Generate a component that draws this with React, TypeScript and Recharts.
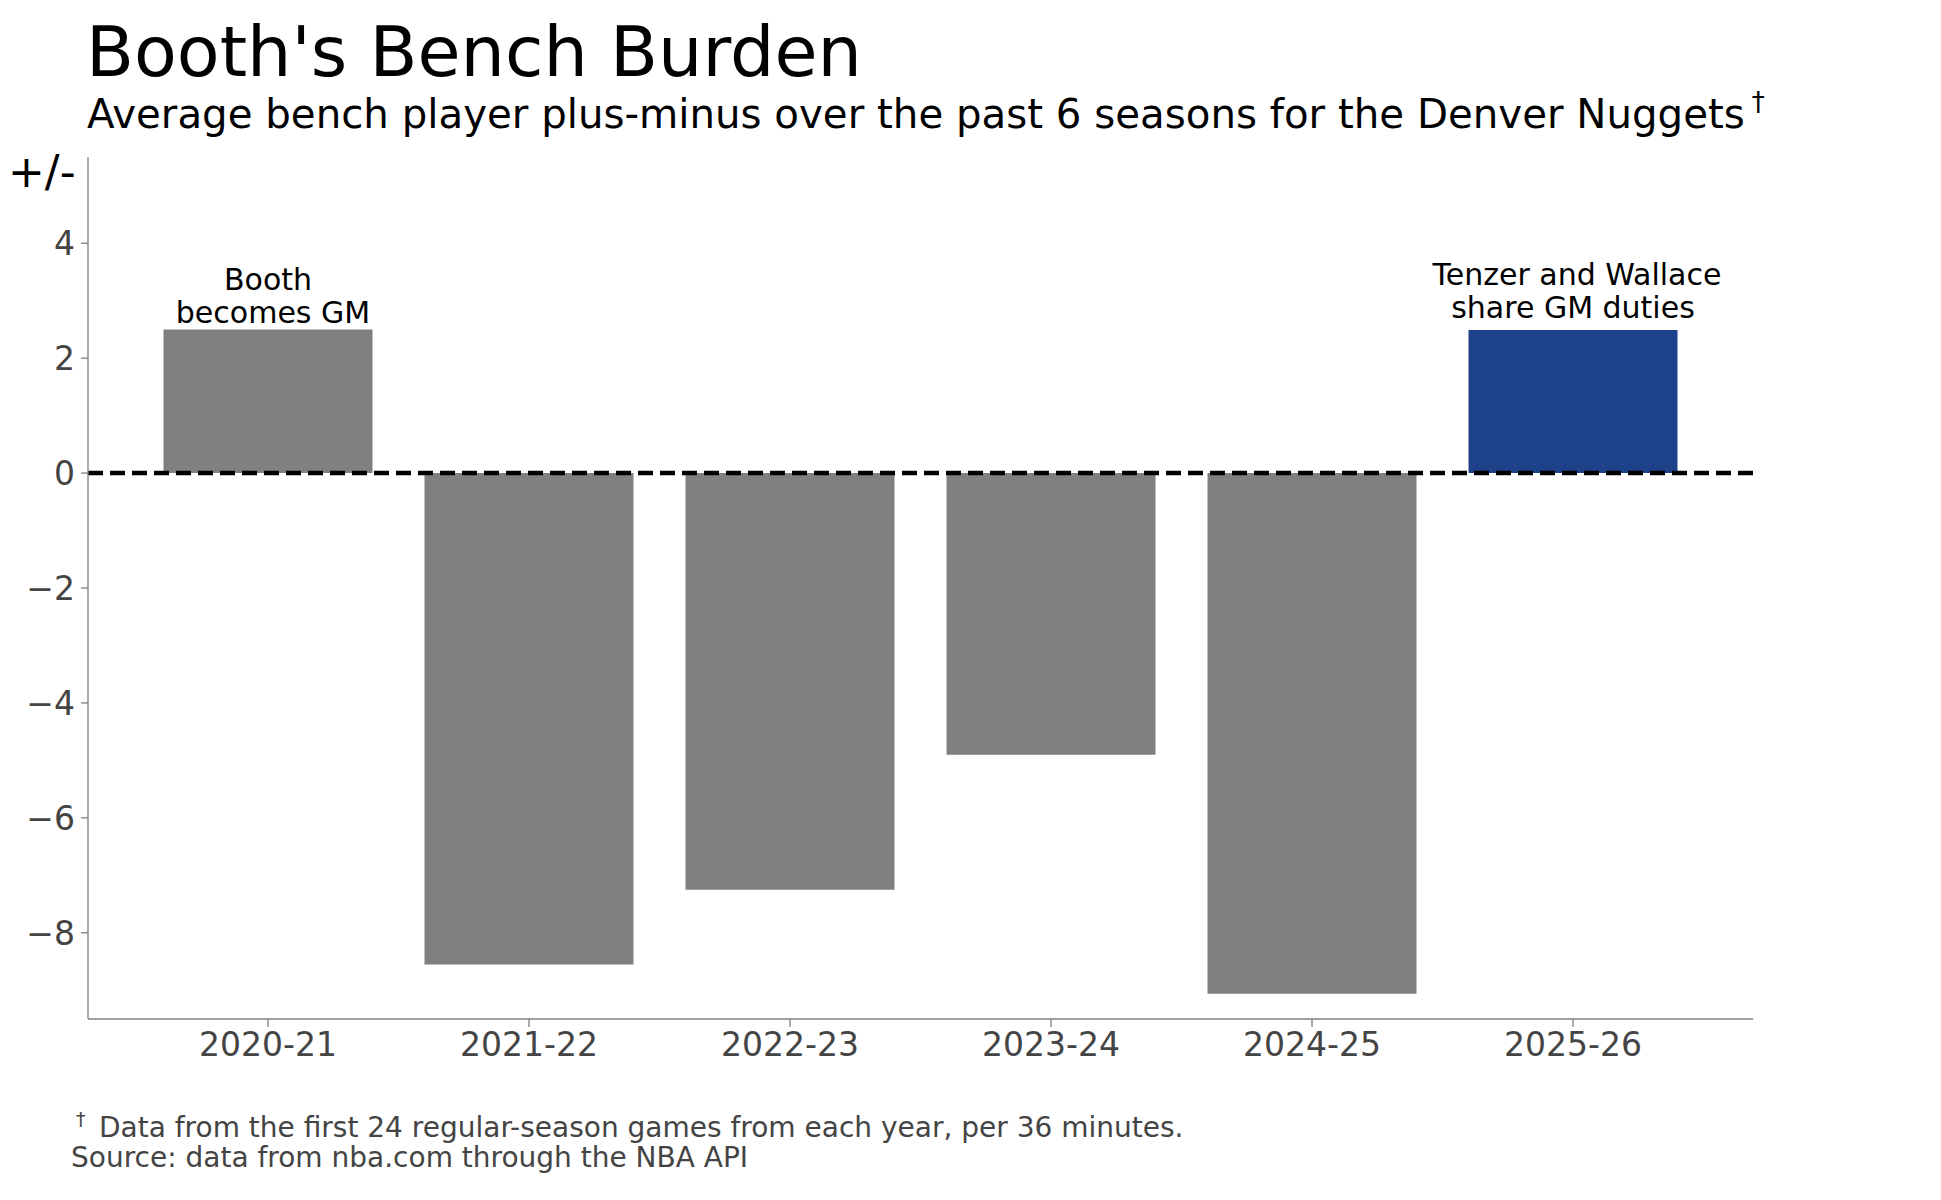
import React from "react";
import { Bar, BarChart, Cell, LabelList, ReferenceLine, XAxis, YAxis } from "recharts";

const seasons = ["2020-21", "2021-22", "2022-23", "2023-24", "2024-25", "2025-26"];
const benchPlusMinus = [2.5, -8.55, -7.25, -4.9, -9.06, 2.49];
const notes = ["Booth\nbecomes GM", "", "", "", "", "Tenzer and Wallace\nshare GM duties"];
const yTicks = [-8, -6, -4, -2, 0, 2, 4];
const highlightSeason = "2025-26";

const data = seasons.map((season, i) => ({
  season,
  value: benchPlusMinus[i],
  note: notes[i],
}));

const FONT = "'DejaVu Sans', sans-serif";
const GREY = "#808080";
const NAVY = "#1D428A";
const TEXT_GREY = "#444444";

// small per-annotation nudges (pixels) so the text sits like the original
const noteLift: Record<number, number> = { 0: 6, 5: 12 };
const noteShift: Record<number, number[]> = { 0: [0, 5], 5: [4, 0] };

function renderNote(props: any) {
  const { x, y, width, value, index } = props;
  if (!value) return null;
  const lines = String(value).split("\n");
  const cx = Number(x) + Number(width) / 2;
  const base = Number(y) - (noteLift[index] ?? 8);
  const shifts = noteShift[index] ?? [];
  return (
    <g>
      {lines.map((line, i) => (
        <text
          key={i}
          x={cx + (shifts[i] ?? 0)}
          y={base - (lines.length - 1 - i) * 33}
          textAnchor="middle"
          fontSize={30}
          fontFamily={FONT}
          fill="#000"
        >
          {line}
        </text>
      ))}
    </g>
  );
}

const fmtTick = (v: number) => (v < 0 ? `\u2212${Math.abs(v)}` : `${v}`);

export default function App() {
  return (
    <div
      style={{
        position: "absolute",
        left: 0,
        top: 0,
        width: 1941,
        height: 1200,
        background: "#fff",
        fontFamily: FONT,
      }}
    >
      <BarChart
        width={1941}
        height={1200}
        data={data}
        margin={{ top: 157, right: 188, bottom: 121, left: 8 }}
      >
        <XAxis
          dataKey="season"
          height={60}
          padding={{ left: 49.5, right: 49.5 }}
          tick={{ fontSize: 33, fill: TEXT_GREY, fontFamily: FONT }}
          tickSize={8}
          tickMargin={6}
          axisLine={{ stroke: GREY, strokeWidth: 1.3 }}
          tickLine={{ stroke: GREY, strokeWidth: 1.3 }}
        />
        <YAxis
          type="number"
          width={80}
          domain={[-9.5, 5.5]}
          ticks={yTicks}
          allowDataOverflow
          tickFormatter={fmtTick}
          tick={{ fontSize: 33, fill: TEXT_GREY, fontFamily: FONT }}
          tickSize={7}
          tickMargin={6}
          axisLine={{ stroke: GREY, strokeWidth: 1.3 }}
          tickLine={{ stroke: GREY, strokeWidth: 1.3 }}
        />
        <Bar dataKey="value" barSize={209} isAnimationActive={false}>
          {data.map((d) => (
            <Cell key={d.season} fill={d.season === highlightSeason ? NAVY : GREY} />
          ))}
          <LabelList dataKey="note" content={renderNote} />
        </Bar>
        <ReferenceLine y={0} stroke="#000" strokeWidth={4.5} strokeDasharray="15 7" />
      </BarChart>

      <svg
        width={1941}
        height={1200}
        style={{ position: "absolute", left: 0, top: 0, pointerEvents: "none" }}
      >
        <text x={86} y={76} fontSize={70} fontFamily={FONT} fill="#000">
          Booth's Bench Burden
        </text>
        <text x={87} y={128} fontSize={40.3} fontFamily={FONT} fill="#000">
          Average bench player plus-minus over the past 6 seasons for the Denver Nuggets
          <tspan fontSize={26} dx={7} dy={-17}>
            †
          </tspan>
        </text>
        <text x={8} y={187} fontSize={44} fontFamily={FONT} fill="#000">
          +/-
        </text>
        <text x={76} y={1126} fontSize={19} fontFamily={FONT} fill={TEXT_GREY}>
          †
        </text>
        <text x={99} y={1137} fontSize={28} fontFamily={FONT} fill={TEXT_GREY}>
          Data from the first 24 regular-season games from each year, per 36 minutes.
        </text>
        <text x={71} y={1167} fontSize={28} fontFamily={FONT} fill={TEXT_GREY}>
          Source: data from nba.com through the NBA API
        </text>
      </svg>
    </div>
  );
}
